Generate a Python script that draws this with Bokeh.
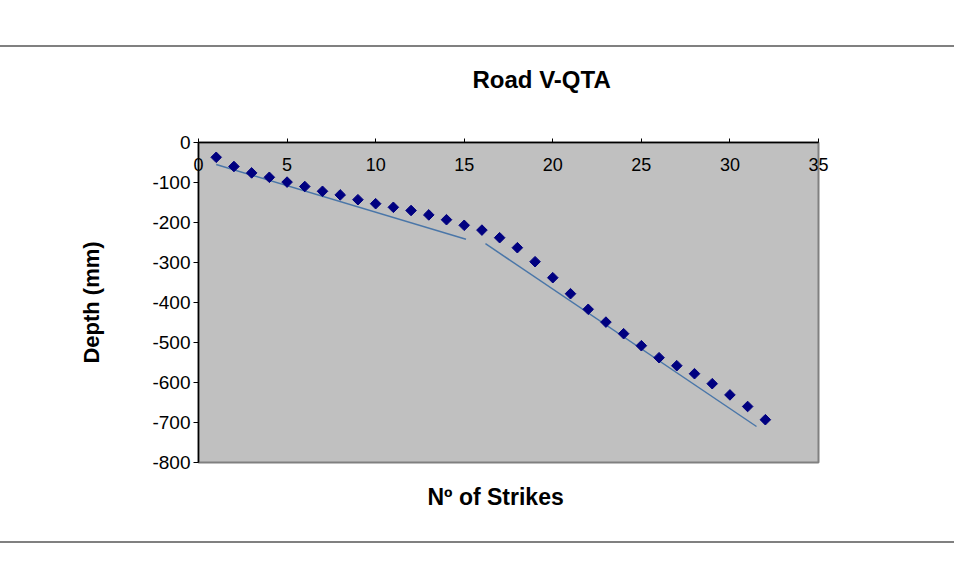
from bokeh.plotting import figure
from bokeh.models import (ColumnDataSource, LinearAxis, Range1d, FixedTicker,
                          Title, PrintfTickFormatter)
from bokeh.embed import file_html
from bokeh.resources import INLINE
import math

# ---- data ----
strikes = list(range(1, 33))
depth = [-37, -60, -76, -87, -99, -110, -122, -131, -143, -153, -162, -170,
         -181, -193, -207, -219, -238, -263, -298, -338, -378, -417, -449,
         -478, -508, -538, -558, -578, -603, -631, -660, -693]
trend1_x = [1.0, 15.1]
trend1_y = [-55, -242]
trend2_x = [16.2, 31.5]
trend2_y = [-253, -710]
x_ticks = [0, 5, 10, 15, 20, 25, 30, 35]
y_ticks = [0, -100, -200, -300, -400, -500, -600, -700, -800]

FONT = "Liberation Sans"

p = figure(width=954, height=575, output_backend="svg", toolbar_location=None,
           x_range=Range1d(0, 35), y_range=Range1d(-800, 0),
           min_border_left=198, min_border_right=136,
           min_border_top=142, min_border_bottom=113,
           x_axis_location=None, y_axis_location=None)

p.background_fill_color = "#c0c0c0"
p.border_fill_color = None
p.outline_line_color = "#808080"
p.outline_line_width = 2
p.grid.visible = False

# outer chart border: horizontal grey rules (page styling)
p.styles = {
    "background-color": "white",
    "background-image": "linear-gradient(#808080, #808080), linear-gradient(#808080, #808080)",
    "background-size": "100% 2px, 100% 2px",
    "background-position": "0 45px, 0 541px",
    "background-repeat": "no-repeat",
}

# x axis along y = 0 (top edge of plot area), labels hanging inside
xax = LinearAxis(ticker=FixedTicker(ticks=x_ticks))
xax.axis_line_color = "black"
xax.axis_line_width = 1.5
xax.major_tick_in = 0
xax.major_tick_out = 4
xax.minor_tick_line_color = None
xax.major_label_text_font = FONT
xax.major_label_text_font_size = "18px"
xax.major_label_text_color = "black"
xax.major_label_standoff = -32
p.add_layout(xax, "above")

yax = LinearAxis(ticker=FixedTicker(ticks=y_ticks),
                 formatter=PrintfTickFormatter(format="%d"))
yax.axis_line_color = "black"
yax.axis_line_width = 1.5
yax.major_tick_in = 0
yax.major_tick_out = 5
yax.minor_tick_line_color = None
yax.major_label_text_font = FONT
yax.major_label_text_font_size = "19px"
yax.major_label_text_color = "black"
yax.major_label_standoff = 3
yax.axis_label = "Depth (mm)"
yax.axis_label_text_font = FONT
yax.axis_label_text_font_style = "bold"
yax.axis_label_text_font_size = "22px"
yax.axis_label_text_color = "black"
yax.axis_label_standoff = 45
p.add_layout(yax, "left")

# titles
t = Title(text="Road V-QTA", align="left", offset=274, standoff=99,
          text_font=FONT, text_font_style="bold", text_font_size="24px",
          text_color="black")
p.add_layout(t, "above")

bt = Title(text="Nº of Strikes", align="left", offset=229, standoff=38,
           text_font=FONT, text_font_style="bold", text_font_size="23px",
           text_color="black")
p.add_layout(bt, "below")

# trend lines
p.line(trend1_x, trend1_y, line_color="#4a76a8", line_width=1.5)
p.line(trend2_x, trend2_y, line_color="#4a76a8", line_width=1.5)

# data points
src = ColumnDataSource(dict(x=strikes, y=depth))
p.scatter("x", "y", source=src, marker="square", size=7.5, angle=math.pi / 4,
          fill_color="#000080", line_color="#000080")

open("out.html", "w").write(file_html(p, INLINE))
